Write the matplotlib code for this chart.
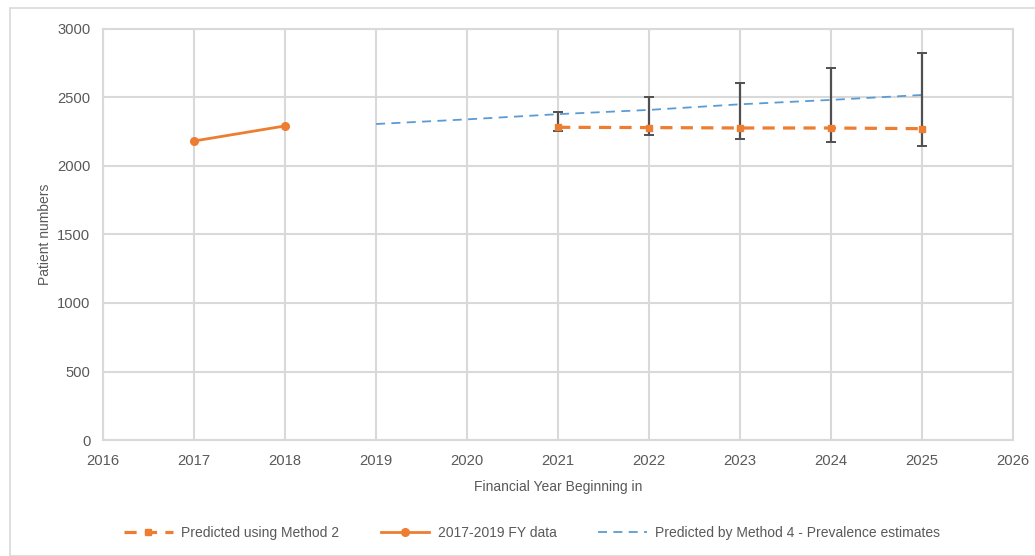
"""Patient number projections by financial year."""

import matplotlib
matplotlib.use("Agg")
import matplotlib.pyplot as plt
from matplotlib.patches import Rectangle

plt.rcParams["font.family"] = ["Liberation Sans Narrow", "Liberation Sans", "DejaVu Sans"]

# Observed financial-year data
actual_years = [2017, 2018]
actual_values = [2182, 2292]

# Method 2 predictions with asymmetric error bars
m2_years = [2021, 2022, 2023, 2024, 2025]
m2_values = [2282, 2280, 2277, 2277, 2272]
m2_err_low = [24, 56, 78, 104, 126]
m2_err_high = [110, 221, 331, 436, 551]

# Method 4 prevalence-based predictions
m4_years = [2019, 2020, 2021, 2022, 2023, 2024, 2025]
m4_values = [2306, 2340, 2378, 2409, 2450, 2482, 2518]

ORANGE = "#ED7D31"
BLUE = "#5B9BD5"
GRID = "#D9D9D9"
TEXT = "#595959"

fig = plt.figure(figsize=(10.35, 5.56), dpi=100)
ax = fig.add_axes([0.0995, 0.2086, 0.8795, 0.7394])

# chart-area frame (only top and left edges fall inside the image)
fig.patches.append(Rectangle((10 / 1035, 0), 1.2, 1 - 8 / 556, transform=fig.transFigure,
                             fill=False, edgecolor=GRID, linewidth=1.2))

ax.errorbar(m2_years, m2_values, yerr=[m2_err_low, m2_err_high], fmt="none",
            ecolor="#505050", elinewidth=1.6, capsize=3.4, capthick=1.4, zorder=4)
ax.plot(m2_years, m2_values, color=ORANGE, linewidth=2.3, linestyle=(0, (3.8, 2.6)),
        marker="s", markersize=4, label="Predicted using Method 2", zorder=5)
ax.plot(actual_years, actual_values, color=ORANGE, linewidth=2.0,
        marker="o", markersize=5.5, label="2017-2019 FY data", zorder=5)
ax.plot(m4_years, m4_values, color=BLUE, linewidth=1.3, linestyle=(0, (5, 3.5)),
        label="Predicted by Method 4 - Prevalence estimates", zorder=3)

ax.set_xlim(2016, 2026)
ax.set_ylim(0, 3000)
ax.set_xticks(range(2016, 2027))
ax.set_yticks(range(0, 3001, 500))
ax.grid(True, color=GRID, linewidth=1.5)
ax.set_axisbelow(True)
for side in ax.spines.values():
    side.set_color(GRID)
    side.set_linewidth(1.5)
ax.tick_params(length=0, labelsize=10.6, labelcolor=TEXT)
ax.tick_params(axis="x", pad=10)
ax.tick_params(axis="y", pad=9)

ax.set_xlabel("Financial Year Beginning in", fontsize=10, color=TEXT, labelpad=9)
ax.set_ylabel("Patient numbers", fontsize=10, color=TEXT, labelpad=4)

fig.legend(loc="center", bbox_to_anchor=(0.514, 0.042), ncol=3, frameon=False,
           fontsize=10, labelcolor=TEXT, handlelength=3.5, columnspacing=3.0,
           handletextpad=0.6)

fig.savefig("out.png", dpi=100)
